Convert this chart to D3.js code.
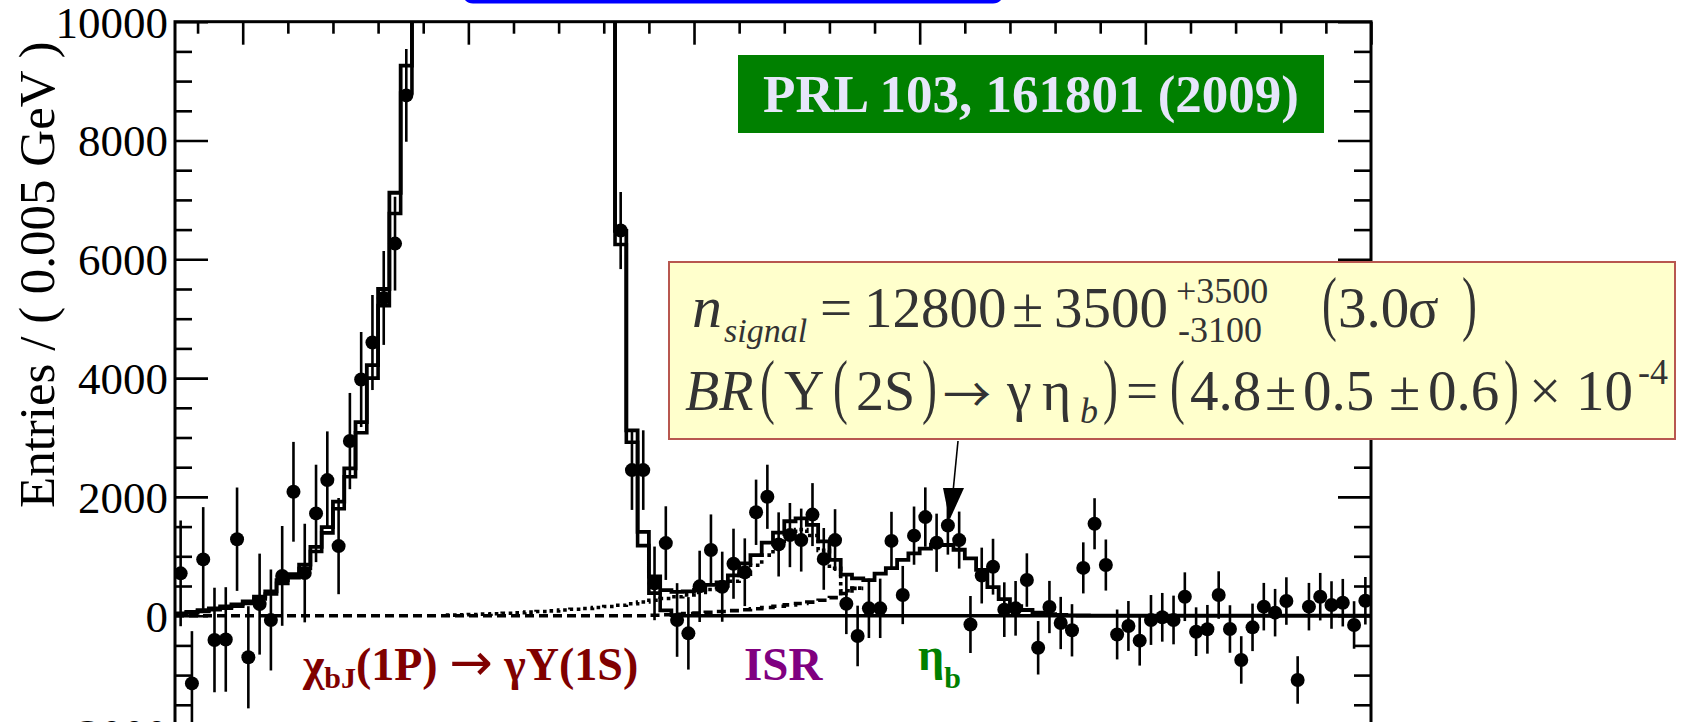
<!DOCTYPE html>
<html><head><meta charset="utf-8">
<script src="https://cdn.jsdelivr.net/npm/d3@7"></script>
<style>
html,body{margin:0;padding:0;background:#fff;overflow:hidden}
svg{display:block}
</style></head><body>
<svg id="chart" width="1682" height="722"></svg>
<script>
// Background-subtracted photon energy spectrum, 0.005 GeV bins from 0.27 GeV
const binLow = 0.27, binWidth = 0.005, nBins = 106;

const entries = [
  713, -1140, 948, -409, -400, 1288, -700, 195, -72, 670,
  2086, 718, 1722, 2283, 1172, 2940, 3976, 4599, 5349, 6264,
  8759, 11800, 15900, 19200, 24300, 28100, 32900, 35200, 37400, 37100,
  36800, 33600, 30900, 26200, 22700, 18300, 15300, 14200, 11300, 6485,
  2451, 2451, 544, 1222, -72, -297, 494, 1105, 488, 875,
  732, 1741, 2002, 1200, 1357, 1273, 1702, 956, 1273, 200,
  -341, 124, 124, 1259, 348, 1348, 1660, 1228, 1518, 1273,
  -148, 676, 825, 102, 124, 600, -540, 146, -123, -246,
  805, 1548, 853, -316, -173, -420, -72, -27, -72, 320,
  -269, -229, 348, -224, -745, -196, 152, 51, 247, -1082,
  152, 320, 180, 219, -156, 252
];
const entryErrors = [
  890, 880, 880, 880, 880, 870, 860, 850, 850, 840,
  840, 830, 820, 820, 810, 810, 800, 800, 790, 790,
  780, 800, 820, 840, 860, 880, 900, 910, 920, 920,
  920, 910, 900, 880, 860, 840, 820, 800, 780, 650,
  670, 670, 620, 620, 620, 610, 600, 600, 590, 590,
  570, 550, 540, 540, 540, 530, 530, 520, 520, 510,
  510, 500, 500, 490, 490, 490, 500, 490, 490, 480,
  480, 470, 470, 460, 460, 450, 450, 440, 440, 440,
  430, 430, 430, 420, 420, 420, 420, 410, 410, 410,
  410, 410, 400, 400, 400, 400, 400, 400, 400, 400,
  400, 400, 400, 400, 400, 400
];
// total fit
const fitTotal = [
  40, 65, 95, 125, 155, 190, 240, 320, 410, 600,
  700, 860, 1160, 1490, 1920, 2480, 3260, 4220, 5500, 7120,
  9260, 12000, 15500, 19500, 24000, 28500, 32500, 35500, 37000, 37500,
  36500, 34000, 30500, 26500, 22500, 18500, 15000, 12800, 10900, 6480,
  3120, 1410, 660, 430, 400, 410, 440, 520, 560, 680,
  880, 1020, 1230, 1400, 1590, 1640, 1530, 1250, 940, 690,
  630, 600, 710, 800, 940, 1050, 1130, 1190, 1190, 1110,
  965, 770, 480, 280, 160, 96, 51, 25, 12, 6,
  3, 2, 1, 0, 0, 0, 0, 0, 0, 0,
  0, 0, 0, 0, 0, 0, 0, 0, 0, 0,
  0, 0, 0, 0, 0, 0
];
// chi_bJ(1P) -> gamma Y(1S) component
const fitChiB = [
  25, 45, 72, 100, 128, 160, 205, 280, 365, 545,
  640, 795, 1080, 1395, 1800, 2340, 3080, 4000, 5220, 6770,
  8800, 11500, 15000, 19000, 23500, 28000, 32000, 35000, 36500, 37000,
  36000, 33500, 30000, 26000, 22000, 18000, 14600, 12400, 10500, 6250,
  2920, 1180, 380, 90, 10, 0, 0, 0, 0, 0,
  0, 0, 0, 0, 0, 0, 0, 0, 0, 0,
  0, 0, 0, 0, 0, 0, 0, 0, 0, 0,
  0, 0, 0, 0, 0, 0, 0, 0, 0, 0,
  0, 0, 0, 0, 0, 0, 0, 0, 0, 0,
  0, 0, 0, 0, 0, 0, 0, 0, 0, 0,
  0, 0, 0, 0, 0, 0
];
// ISR component stacked on the smooth background (bins 24..60)
const isrStackStart = 24;
const fitIsrStack = [
  10, 15, 20, 27, 34, 42, 50, 60, 70, 82,
  95, 108, 122, 138, 155, 175, 200, 230, 260, 290,
  320, 350, 390, 440, 500, 580, 700, 850, 1020, 1200,
  1380, 1450, 1350, 1100, 800, 420, 465
];
// smooth background with kinematic edge (bins 0..60)
const fitEdge = [
  0, 0, 0, 0, 0, 0, 0, 0, 0, 0,
  0, 0, 0, 0, 0, 0, 0, 0, 0, 0,
  0, 0, 0, 0, 0, 0, 0, 0, 0, 0,
  0, 0, 0, 0, 0, 0, 0, 0, 0, 0,
  0, 0, 8, 16, 25, 35, 45, 57, 70, 85,
  100, 118, 138, 160, 182, 205, 228, 260, 305, 375,
  460
];

const yMajor = [-2000, 0, 2000, 4000, 6000, 8000, 10000];
const yMinor = [-1500, -1000, -500, 500, 1000, 1500, 2500, 3000, 3500, 4500, 5000, 5500,
                6500, 7000, 7500, 8500, 9000, 9500];
const xMajor = [0.3, 0.4, 0.5, 0.6, 0.7, 0.8];
const xMinor = [0.28, 0.32, 0.34, 0.36, 0.38, 0.42, 0.44, 0.46, 0.48, 0.52, 0.54, 0.56, 0.58,
                0.62, 0.64, 0.66, 0.68, 0.72, 0.74, 0.76, 0.78];

const SERIF = '"Liberation Serif", "Times New Roman", serif';
const ARROWFONT = '"DejaVu Sans", sans-serif';
const THINARROW = '"Noto Sans CJK JP", "DejaVu Sans", sans-serif';
const svg = d3.select('#chart');
const L = 175, R = 1371, T = 21.7, B = 734.5;
const x = d3.scaleLinear().domain([binLow, binLow + nBins * binWidth]).range([L, R]);
const y = d3.scaleLinear().domain([-2000, 10000]).range([B, T]);

const edge = i => binLow + i * binWidth;
const centre = i => binLow + (i + 0.5) * binWidth;

svg.append('defs').append('clipPath').attr('id', 'plotClip')
  .append('rect').attr('x', L).attr('y', T).attr('width', R - L).attr('height', B - T);

// blue frame peeking in at the top
svg.append('rect').attr('x', 464).attr('y', -40).attr('width', 538).attr('height', 41.5)
  .attr('rx', 9).attr('fill', 'none').attr('stroke', '#0000ff').attr('stroke-width', 4);

const plot = svg.append('g').attr('clip-path', 'url(#plotClip)');

// step histogram path for a run of bins starting at `start`
function stepPath(vals, start) {
  const pts = vals.map((v, k) => [x(edge(start + k)), y(v)]);
  pts.push([x(edge(start + vals.length)), y(vals[vals.length - 1])]);
  return d3.line().curve(d3.curveStepAfter)(pts);
}

plot.append('path').attr('d', stepPath(fitEdge, 0))
  .attr('fill', 'none').attr('stroke', '#000').attr('stroke-width', 3.6)
  .attr('stroke-dasharray', '9,5');
plot.append('path').attr('d', stepPath(fitIsrStack, isrStackStart))
  .attr('fill', 'none').attr('stroke', '#000').attr('stroke-width', 3.6)
  .attr('stroke-dasharray', '3.6,3.6');
plot.append('path').attr('d', stepPath(fitChiB, 0))
  .attr('fill', 'none').attr('stroke', '#000').attr('stroke-width', 3.6);
plot.append('path').attr('d', stepPath(fitTotal, 0))
  .attr('fill', 'none').attr('stroke', '#000').attr('stroke-width', 3.8);

// data points with statistical errors
const pts = entries.map((v, i) => ({ e: centre(i), v, err: entryErrors[i] }));
plot.append('g').selectAll('line').data(pts).join('line')
  .attr('x1', d => x(d.e)).attr('x2', d => x(d.e))
  .attr('y1', d => y(d.v - d.err)).attr('y2', d => y(d.v + d.err))
  .attr('stroke', '#000').attr('stroke-width', 2.6);
plot.append('g').selectAll('circle').data(pts).join('circle')
  .attr('cx', d => x(d.e)).attr('cy', d => y(d.v)).attr('r', 7).attr('fill', '#000');

// axes and frame
const tickStyle = g => {
  g.select('.domain').remove();
  g.selectAll('.tick line').attr('stroke', '#000').attr('stroke-width', 2.6);
};
svg.append('g').attr('transform', `translate(${L},0)`)
  .call(d3.axisLeft(y).tickValues(yMajor).tickSizeInner(-33).tickSizeOuter(0).tickPadding(7)
    .tickFormat(d3.format('d')))
  .call(tickStyle)
  .call(g => g.selectAll('.tick text').attr('fill', '#000').attr('dy', '0.34em')
    .style('font-family', SERIF).style('font-size', '45px'));
svg.append('g').attr('transform', `translate(${L},0)`)
  .call(d3.axisLeft(y).tickValues(yMinor).tickSizeInner(-17).tickSizeOuter(0).tickFormat(''))
  .call(tickStyle);
svg.append('g').attr('transform', `translate(${R},0)`)
  .call(d3.axisRight(y).tickValues(yMajor).tickSizeInner(-33).tickSizeOuter(0).tickFormat(''))
  .call(tickStyle);
svg.append('g').attr('transform', `translate(${R},0)`)
  .call(d3.axisRight(y).tickValues(yMinor).tickSizeInner(-17).tickSizeOuter(0).tickFormat(''))
  .call(tickStyle);
svg.append('g').attr('transform', `translate(0,${T})`)
  .call(d3.axisTop(x).tickValues(xMajor).tickSizeInner(-23).tickSizeOuter(0).tickFormat(''))
  .call(tickStyle);
svg.append('g').attr('transform', `translate(0,${T})`)
  .call(d3.axisTop(x).tickValues(xMinor).tickSizeInner(-12).tickSizeOuter(0).tickFormat(''))
  .call(tickStyle);
svg.append('rect').attr('x', L).attr('y', T).attr('width', R - L).attr('height', B - T)
  .attr('fill', 'none').attr('stroke', '#000').attr('stroke-width', 3);

// serif text helper
function label(parent, str, px, py, size, opts = {}) {
  const t = parent.append('text').attr('x', px).attr('y', py)
    .style('font-family', opts.family || SERIF).style('font-size', size + 'px')
    .style('font-style', opts.italic ? 'italic' : 'normal')
    .style('font-weight', opts.bold ? 'bold' : 'normal')
    .attr('fill', opts.fill || '#000');
  if (opts.anchor) t.attr('text-anchor', opts.anchor);
  if (str !== null) t.text(str);
  return t;
}

// y-axis title
svg.append('text').attr('transform', 'translate(54,508) rotate(-90)')
  .style('font-family', SERIF).style('font-size', '51px').attr('fill', '#000')
  .text('Entries / ( 0.005 GeV )');

// process labels under the peaks
const chiLab = label(svg, null, 303, 680, 46, { bold: true, fill: '#800000' });
chiLab.append('tspan').text('χ');
chiLab.append('tspan').style('font-size', '30px').attr('dy', 8).text('bJ');
chiLab.append('tspan').attr('dy', -8).text('(1P) ');
chiLab.append('tspan').style('font-family', ARROWFONT).style('font-weight', 'normal')
  .style('font-size', '52px').text('→');
chiLab.append('tspan').text(' γΥ(1S)');
label(svg, 'ISR', 744, 680, 47, { bold: true, fill: '#800080' });
const etaLab = label(svg, null, 918, 670, 46, { bold: true, fill: '#008000' });
etaLab.append('tspan').text('η');
etaLab.append('tspan').style('font-size', '30px').attr('dy', 18).text('b');

// publication tag
svg.append('rect').attr('x', 738).attr('y', 55).attr('width', 586).attr('height', 78).attr('fill', '#008000');
label(svg, 'PRL 103, 161801 (2009)', 1031, 112, 53, { bold: true, fill: '#e6e6fa', anchor: 'middle' });

// result box
const box = svg.append('g');
box.append('rect').attr('x', 669).attr('y', 262).attr('width', 1006).attr('height', 177)
  .attr('fill', '#ffffcc').attr('stroke', '#b8574f').attr('stroke-width', 2);
const ink = '#333';
const put = (str, px, py, size, italic) => label(box, str, px, py, size, { italic, fill: ink });
function paren(str, px, py) {
  return box.append('text').attr('transform', `translate(${px},${py}) scale(0.62,1)`)
    .style('font-family', SERIF).style('font-size', '72px').attr('fill', ink).text(str);
}
// first line: fitted signal yield
put('n', 692, 327, 60, true);
put('signal', 724, 342, 34, true);
put('=', 820, 327, 57);
put('12800', 864, 327, 57);
put('±', 1012, 327, 57);
put('3500', 1054, 327, 57);
put('+3500', 1176, 303, 36);
put('-3100', 1178, 342, 36);
paren('(', 1322, 327);
put('3.0', 1338, 327, 57);
put('σ', 1408, 327, 57);
paren(')', 1462, 327);
// second line: branching fraction
put('BR', 685, 410, 56, true);
paren('(', 760, 410);
put('Υ', 784, 410, 56);
paren('(', 833, 410);
put('2S', 856, 410, 56);
paren(')', 922, 410);
label(box, '→', 943, 412, 48, { fill: ink, family: THINARROW });
put('γ', 1007, 410, 56);
put('η', 1042, 410, 56);
put('b', 1080, 423, 36, true);
paren(')', 1103, 410);
put('=', 1126, 410, 57);
paren('(', 1170, 410);
put('4.8', 1190, 410, 57);
put('±', 1265, 410, 57);
put('0.5', 1303, 410, 57);
put('±', 1389, 410, 57);
put('0.6', 1428, 410, 57);
paren(')', 1504, 410);
put('×', 1529, 410, 57);
put('10', 1576, 410, 57);
put('-4', 1638, 384, 36);

// arrow pointing at the eta_b peak
svg.append('line').attr('x1', 958).attr('y1', 441).attr('x2', 953).attr('y2', 492)
  .attr('stroke', '#000').attr('stroke-width', 1.6);
svg.append('path').attr('d', 'M943,488 L964,488 L949.5,520 Z').attr('fill', '#000');
</script>
</body></html>
